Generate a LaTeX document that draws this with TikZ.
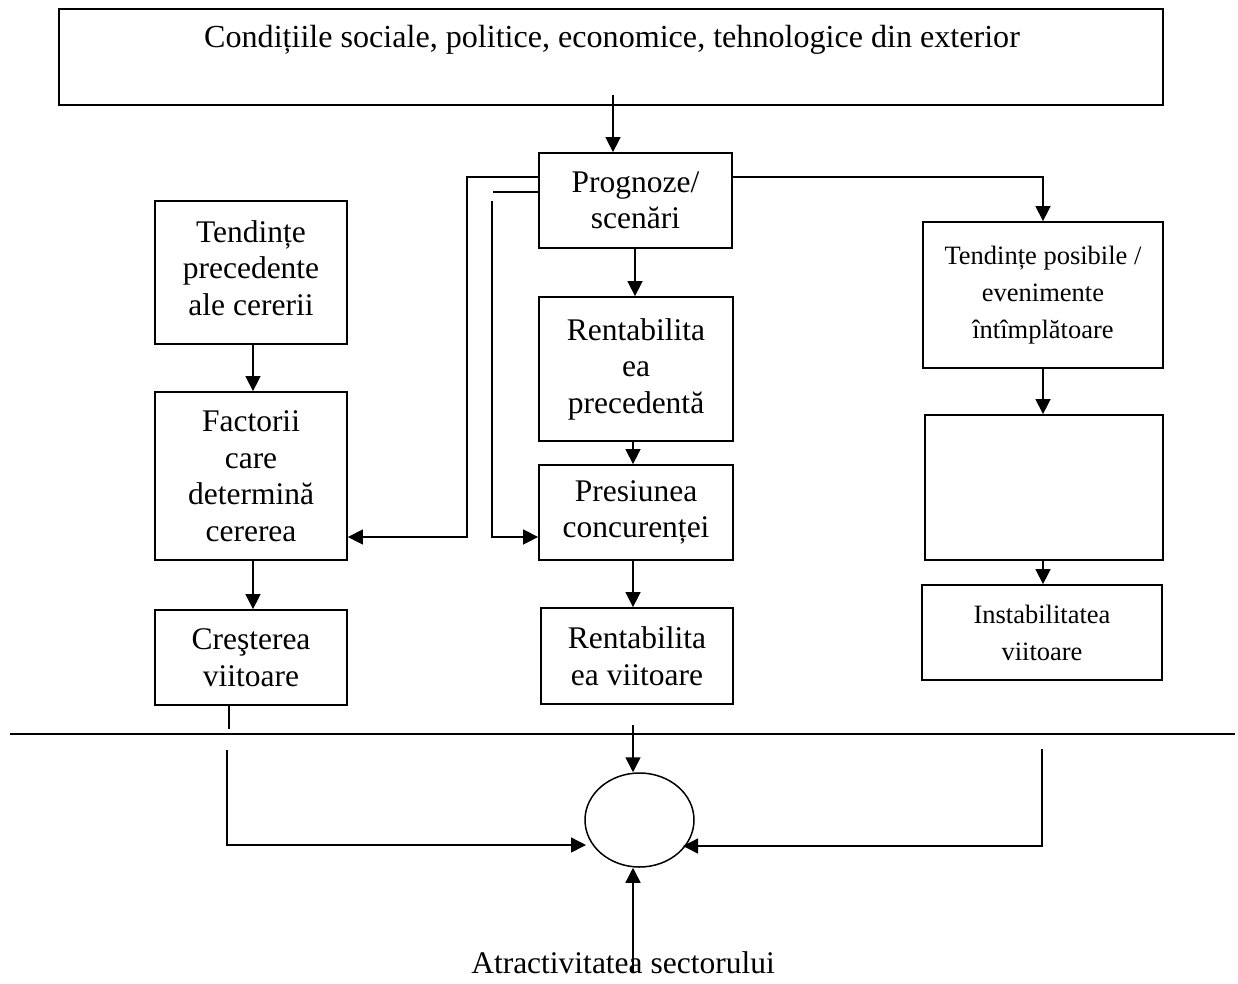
\documentclass[tikz,border=0pt]{standalone}
\usepackage{fontspec}
\setmainfont{Liberation Serif}
\usetikzlibrary{arrows.meta,shapes.geometric}
\begin{document}
\begin{tikzpicture}[x=1pt,y=-1pt,
  box/.style={draw,line width=1.8pt,rectangle,inner sep=0pt,align=center,
    font=\fontsize{31.5}{36.5}\selectfont},
  smallbox/.style={box,font=\fontsize{26.5}{37}\selectfont},
  lbl/.style={inner sep=0pt,align=center,font=\fontsize{31.5}{36.5}\selectfont},
  ln/.style={line width=1.5pt},
  arr/.style={ln,-{Triangle[length=15pt,width=15pt]}}]
\useasboundingbox (0,0) rectangle (1238,983);

% boxes
\node[box,minimum width=1104pt,minimum height=96pt] (top) at (611,57) {};
\node[lbl,font=\fontsize{32.1}{37}\selectfont] (toptext) at (612,40) {Condițiile sociale, politice, economice, tehnologice din exterior};
\node[box,minimum width=193pt,minimum height=95pt] (prog) at (635.5,200.5) {Prognoze/\\scenări};
\node[box,minimum width=192pt,minimum height=143pt] (tprec) at (251,272.5) {};
\node[lbl] (tprectext) at (251,268) {Tendințe\\precedente\\ale cererii};
\node[box,minimum width=192pt,minimum height=168pt] (fact) at (251,476) {Factorii\\care\\determină\\cererea};
\node[box,minimum width=192pt,minimum height=95pt] (cresc) at (251,657.5) {Creşterea\\viitoare};
\node[box,minimum width=194pt,minimum height=144pt] (rprec) at (636,369) {Rentabilita\\ea\\precedentă};
\node[box,minimum width=194pt,minimum height=95pt] (pres) at (636,512.5) {Presiunea\\concurenței};
\node[box,minimum width=192pt,minimum height=96pt] (rviit) at (637,656) {Rentabilita\\ea viitoare};
\node[smallbox,minimum width=240pt,minimum height=146pt] (tpos) at (1043,295) {Tendințe posibile /\\evenimente\\întîmplătoare};
\node[box,minimum width=238pt,minimum height=145pt] (empty) at (1044,487.5) {};
\node[smallbox,minimum width=240pt,minimum height=95pt] (instab) at (1042,632.5) {Instabilitatea\\viitoare};
\node[draw,ellipse,line width=1.5pt,minimum width=109pt,minimum height=94pt,inner sep=0pt] (circ) at (639.5,820) {};
\node[lbl] (atr) at (623,963) {Atractivitatea sectorului};

% free line ends
\coordinate (t1) at (613,95);
\coordinate (l1) at (493,192);
\coordinate (l2) at (492,201);
\coordinate (stub) at (229,729);
\coordinate (rl) at (10,734);
\coordinate (rr) at (1235,734);
\coordinate (la) at (227,750);
\coordinate (ra) at (1042,749);
\coordinate (ma) at (633,725);
\coordinate (ba) at (633,973);

% connectors
\draw[arr] (t1) -- (t1 |- prog.north);
\draw[arr] (prog.west |- 0,177) -- (467,177) -- (467,537) -- (fact.east |- 0,537);
\draw[ln] (l1) -- (prog.west |- l1);
\draw[arr] (l2) -- (492,537) -- (pres.west |- 0,537);
\draw[arr] (prog.east |- 0,177) -- (1043,177) -- (tpos.north -| 1043,0);
\draw[arr] (prog.south -| 635,0) -- (rprec.north -| 635,0);
\draw[arr] (rprec.south -| 633,0) -- (pres.north -| 633,0);
\draw[arr] (pres.south -| 633,0) -- (rviit.north -| 633,0);
\draw[arr] (tprec.south -| 253,0) -- (fact.north -| 253,0);
\draw[arr] (fact.south -| 253,0) -- (cresc.north -| 253,0);
\draw[arr] (tpos.south -| 1043,0) -- (empty.north -| 1043,0);
\draw[arr] (empty.south -| 1043,0) -- (instab.north -| 1043,0);
\draw[ln] (cresc.south -| stub) -- (stub);
\draw[ln] (rl) -- (rr);
\draw[arr] (la) -- (227,845) -- (586,845);
\draw[arr] (ra) -- (1042,846) -- (683,846);
\draw[arr] (ma) -- (ma |- circ.north);
\draw[arr] (ba) -- (ba |- circ.south);
\end{tikzpicture}
\end{document}
